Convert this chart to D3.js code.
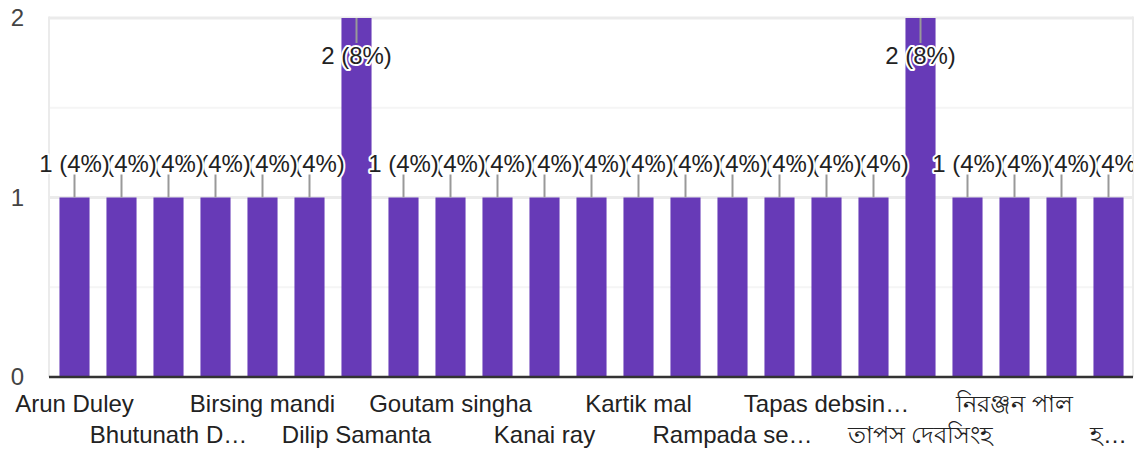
<!DOCTYPE html>
<html>
<head>
<meta charset="utf-8">
<script src="https://cdn.jsdelivr.net/npm/d3@7"></script>
<style>
  html, body { margin: 0; padding: 0; background: #fff; }
  svg { display: block; font-family: Arial, "Liberation Sans", "Noto Sans", sans-serif; }
</style>
</head>
<body>
<svg id="chart" width="1142" height="452"></svg>
<script>
// respondent names as shown under the bars (hidden ones left blank)
const categories = [
  'Arun Duley', '', 'Bhutunath D…', '', 'Birsing mandi', '', 'Dilip Samanta', '',
  'Goutam singha', '', 'Kanai ray', '', 'Kartik mal', '', 'Rampada se…', '',
  'Tapas debsin…', '', 'তাপস দেবসিংহ', '', 'নিরঞ্জন পাল', '', 'হ…'
];
const values = [1, 1, 1, 1, 1, 1, 2, 1, 1, 1, 1, 1, 1, 1, 1, 1, 1, 1, 2, 1, 1, 1, 1];
const yTicks = [0, 1, 2];
const yMinorTicks = [0.5, 1.5];

const svg = d3.select('#chart');
const total = d3.sum(values);

const x = d3.scaleBand()
  .domain(d3.range(values.length))
  .range([51, 1132])
  .paddingInner(0.36)
  .paddingOuter(0.18);

const y = d3.scaleLinear()
  .domain([0, 2])
  .range([377, 18]);

svg.append('clipPath').attr('id', 'clip')
  .append('rect').attr('x', 0).attr('y', 0).attr('width', 1133).attr('height', 452);

// gridlines
svg.append('g')
  .selectAll('line.minor')
  .data(yMinorTicks)
  .join('line')
    .attr('class', 'minor')
    .attr('x1', 49).attr('x2', 1133)
    .attr('y1', d => y(d)).attr('y2', d => y(d))
    .attr('stroke', '#f5f5f5').attr('stroke-width', 2);
svg.append('g')
  .selectAll('line.major')
  .data(yTicks.filter(d => d > 0))
  .join('line')
    .attr('class', 'major')
    .attr('x1', 49).attr('x2', 1133)
    .attr('y1', d => y(d)).attr('y2', d => y(d))
    .attr('stroke', '#ebebeb').attr('stroke-width', 3);
svg.append('g')
  .selectAll('line.vert')
  .data([49, 1133])
  .join('line')
    .attr('class', 'vert')
    .attr('x1', d => d).attr('x2', d => d)
    .attr('y1', y(2) - 1.5).attr('y2', y(0))
    .attr('stroke', '#ebebeb').attr('stroke-width', 2);

// bars
svg.append('g')
  .selectAll('rect')
  .data(values)
  .join('rect')
    .attr('x', (d, i) => x(i))
    .attr('y', d => y(d))
    .attr('width', x.bandwidth())
    .attr('height', d => y(0) - y(d))
    .attr('fill', '#673ab7');

// baseline
svg.append('line')
  .attr('x1', 49).attr('x2', 1133)
  .attr('y1', y(0)).attr('y2', y(0))
  .attr('stroke', '#333').attr('stroke-width', 2.5);

// y axis
const yAxis = svg.append('g')
  .attr('transform', 'translate(48,0)')
  .call(d3.axisLeft(y).tickValues(yTicks).tickFormat(d3.format('d')).tickSize(0).tickPadding(24));
yAxis.select('.domain').remove();
yAxis.selectAll('text')
  .attr('font-size', 24)
  .attr('font-family', 'Arial, "Liberation Sans", sans-serif')
  .attr('fill', '#444');

// x axis, labels staggered on two rows
const xAxis = svg.append('g')
  .attr('transform', `translate(0,${y(0)})`)
  .call(d3.axisBottom(x).tickFormat(i => categories[i]).tickSize(0));
xAxis.select('.domain').remove();
xAxis.selectAll('text')
  .attr('dy', null)
  .attr('y', i => (i % 4 === 0 ? 35 : 66))
  .attr('font-size', 24)
  .attr('font-family', 'Arial, "Liberation Sans", "Noto Sans", sans-serif')
  .attr('fill', '#222');

// data labels with leader lines (drawn last-first so earlier ones sit on top)
const labelData = values.map((v, i) => ({i, v}));
const labelY = d => (d.v === 2 ? y(d.v) + 46 : y(d.v) - 26);

const labels = svg.append('g').attr('clip-path', 'url(#clip)');
labels.selectAll('line')
  .data(labelData)
  .join('line')
    .attr('x1', d => x(d.i) + x.bandwidth() / 2)
    .attr('x2', d => x(d.i) + x.bandwidth() / 2)
    .attr('y1', d => (d.v === 2 ? y(d.v) : y(d.v) - 23))
    .attr('y2', d => (d.v === 2 ? y(d.v) + 25 : y(d.v)))
    .attr('stroke', '#999').attr('stroke-width', 2);
labels.selectAll('text')
  .data(labelData.slice().reverse())
  .join('text')
    .attr('x', d => x(d.i) + x.bandwidth() / 2)
    .attr('y', labelY)
    .attr('text-anchor', 'middle')
    .attr('font-size', 24)
    .attr('fill', '#222')
    .attr('stroke', '#fff')
    .attr('stroke-width', 4)
    .attr('stroke-linejoin', 'round')
    .attr('paint-order', 'stroke')
    .text(d => `${d.v} (${Math.round(d.v / total * 100)}%)`);
</script>
</body>
</html>
